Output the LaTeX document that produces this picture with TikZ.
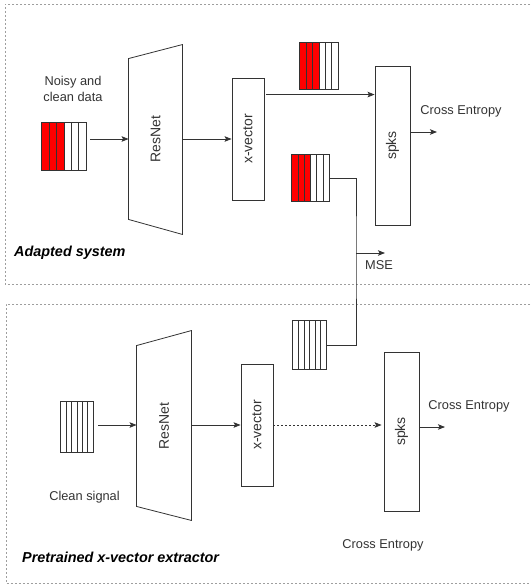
\documentclass[tikz,border=0pt]{standalone}
\usepackage{fontspec}
\setmainfont{Liberation Sans}
\usetikzlibrary{positioning,arrows.meta,calc}
\definecolor{gris}{HTML}{333333}
\definecolor{rojo}{HTML}{FF0000}
\definecolor{marco}{HTML}{9E9E9E}
% striped feature block: node name, number of red stripes
\newcommand{\stripes}[2]{%
  \foreach \i in {1,...,6}{%
    \pgfmathtruncatemacro{\j}{\i-1}%
    \ifnum\i>#2\relax\def\fc{white}\else\def\fc{rojo}\fi
    \draw[draw=gris, line width=0.7pt, fill=\fc]
      ($(#1.north west)!\j/6!(#1.north east)$) rectangle ($(#1.south west)!\i/6!(#1.south east)$);
  }}

\begin{document}
\begin{tikzpicture}[x=1pt, y=-1pt, font=\fontsize{12.8}{16}\selectfont,
      >={Stealth[length=7pt, width=5.5pt, inset=1.5pt]},
      ln/.style={draw=gris, line width=0.8pt},
      b/.style={draw=gris, line width=0.9pt, inner sep=0pt, text=gris,
                font=\fontsize{14}{14}\selectfont},
      sp/.style={inner sep=0pt},
      t/.style={text=gris, align=center, inner sep=0pt},
      ttl/.style={inner sep=0pt, anchor=west, font=\fontsize{14.4}{16}\selectfont\bfseries\itshape},
      frame/.style={draw=marco, line width=0.8pt, dash pattern=on 2pt off 2pt}]
    \useasboundingbox (0,0) rectangle (530,585);
    % dotted frames
    \draw[frame] (534,4) -| (5,284) -- (534,284);
    \draw[frame] (534,304) -| (6,583) -- (534,583);

    % adapted system
    \node[t] (noisy) at (73,89) {Noisy and\\clean data};
    \node[sp, minimum width=44, minimum height=47] (in1) at (64,146.5) {};
    \stripes{in1}{3}
    \node[b, draw=none, minimum width=53, minimum height=160] (res1) at (155.5,139) {\rotatebox{90}{ResNet}};
    \draw[ln] (res1.north west) -- ([yshift=14pt]res1.north east) --
        ([yshift=-15pt]res1.south east) -- (res1.south west) -- cycle;
    \node[b, minimum width=32, minimum height=122] (vec1) at (248,139) {\rotatebox{90}{x-vector}};
    \node[b, minimum width=35, minimum height=159] (spk1) at (392.5,145.5) {\rotatebox{90}{spks}};
    \node[sp, minimum width=38, minimum height=46] (emb1) at (319,66) {};
    \stripes{emb1}{3}
    \node[sp, minimum width=37, minimum height=46] (emb2) at (310.5,178) {};
    \stripes{emb2}{3}
    \coordinate (ce1) at (437,132);
    \node[t] (cel1) at (461,111) {Cross Entropy};
    \node[ttl] (adapt) at (14,253) {Adapted system};

    \draw[ln, ->] ([xshift=4pt]in1.east |- res1.west) -- (res1.west);
    \draw[ln, ->] (res1.east) -- (res1.east -| vec1.west);
    \draw[ln, ->] ([xshift=2pt, yshift=-17pt]vec1.north east) -- ([yshift=-17pt]vec1.north east -| spk1.west);
    \draw[ln, ->] (spk1.east |- ce1) -- (ce1);

    % pretrained extractor
    \node[sp, minimum width=32, minimum height=50] (in2) at (77,427) {};
    \stripes{in2}{0}
    \node[t] (clean) at (84.5,497) {Clean signal};
    \node[b, draw=none, minimum width=54, minimum height=160] (res2) at (164,426) {\rotatebox{90}{ResNet}};
    \draw[ln] (res2.north west) -- ([yshift=15pt]res2.north east) --
        ([yshift=-14pt]res2.south east) -- (res2.south west) -- cycle;
    \node[b, minimum width=32, minimum height=122] (vec2) at (257,425) {\rotatebox{90}{x-vector}};
    \node[b, minimum width=35, minimum height=159] (spk2) at (401.5,431.5) {\rotatebox{90}{spks}};
    \node[sp, minimum width=33, minimum height=48] (emb3) at (309.5,345) {};
    \stripes{emb3}{0}
    \coordinate (ce2) at (445,427);
    \node[t] (cel2) at (469,406) {Cross Entropy};
    \node[t] (cel3) at (383,545) {Cross Entropy};
    \node[ttl] (pretr) at (22,557) {Pretrained x-vector extractor};

    \draw[ln, ->] ([xshift=5pt]in2.east |- vec2.west) -- (res2.west |- vec2.west);
    \draw[ln, ->] (res2.east |- vec2.west) -- (vec2.west);
    \draw[ln, ->, dash pattern=on 2pt off 2pt] (vec2.east) -- ([xshift=-2pt]vec2.east -| spk2.west);
    \draw[ln, ->] (spk2.east |- ce2) -- (ce2);

    % MSE between the two x-vectors
    \coordinate (mj) at (356,253);
    \coordinate (mse) at (385,253);
    \draw[ln] (emb2.east) -| (mj) |- (emb3.east);
    \draw[ln, ->] (mj) -- (mse);
    \node[t] (msel) at (379,265) {MSE};
  \end{tikzpicture}
\end{document}
